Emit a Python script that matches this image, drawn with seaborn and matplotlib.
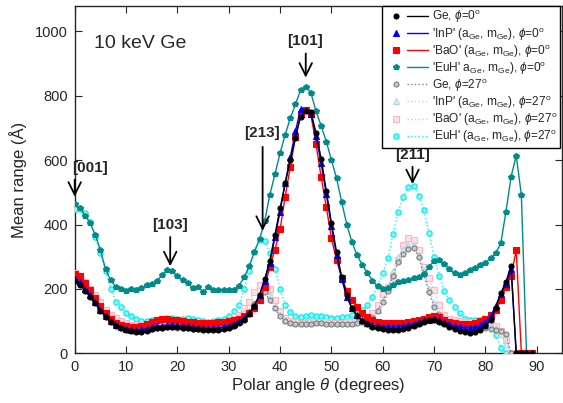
import numpy as np
import pandas as pd
import matplotlib
matplotlib.use("Agg")
import matplotlib.pyplot as plt
from matplotlib.lines import Line2D
from matplotlib.legend_handler import HandlerTuple
import seaborn as sns

sns.set_style("ticks")
plt.rcParams['font.family'] = ['Liberation Sans', 'DejaVu Sans']
plt.rcParams['mathtext.fontset'] = 'custom'
plt.rcParams['mathtext.rm'] = 'Liberation Sans'
plt.rcParams['mathtext.it'] = 'Liberation Sans:italic'

angle = list(range(90))

ge_0 = [225, 212, 195, 175, 155, 133, 113, 98, 86, 78,
        72, 68, 66, 67, 70, 74, 78, 80, 82, 82,
        81, 80, 78, 76, 74, 72, 71, 71, 72, 74,
        78, 84, 93, 105, 122, 148, 182, 230, 288, 368,
        450, 528, 600, 670, 735, 752, 750, 685, 605, 505,
        405, 315, 238, 180, 140, 115, 100, 90, 83, 79,
        76, 73, 72, 72, 74, 78, 84, 92, 98, 102,
        103, 98, 90, 82, 75, 70, 66, 64, 66, 72,
        85, 102, 140, 187, 222, 272, 0, 0, 0, 0]

inp_0 = [232, 220, 200, 180, 158, 136, 116, 100, 89, 82,
         76, 73, 72, 74, 77, 81, 84, 86, 88, 88,
         87, 86, 84, 82, 80, 79, 78, 78, 80, 82,
         86, 92, 100, 110, 125, 148, 180, 225, 280, 360,
         440, 530, 610, 690, 760, 756, 745, 675, 590, 495,
         395, 305, 230, 175, 140, 118, 103, 94, 88, 85,
         83, 82, 82, 83, 85, 88, 92, 97, 102, 105,
         106, 102, 96, 90, 85, 82, 80, 80, 82, 88,
         98, 115, 148, 185, 215, 262, 0, 0, 0, 0]

bao_0 = [245, 240, 217, 196, 172, 148, 125, 108, 95, 88,
         84, 82, 83, 86, 92, 98, 103, 106, 106, 105,
         103, 100, 98, 96, 95, 94, 94, 95, 96, 98,
         100, 104, 108, 115, 125, 140, 165, 205, 269, 321,
         385, 487, 580, 672, 745, 757, 742, 650, 548, 455,
         358, 290, 235, 195, 165, 143, 125, 112, 104, 98,
         95, 93, 93, 93, 95, 97, 100, 104, 108, 112,
         115, 112, 105, 98, 94, 92, 92, 92, 94, 100,
         108, 118, 134, 165, 207, 240, 321, 0, 0, 0]

euh_0 = [463, 452, 428, 405, 368, 321, 262, 227, 207, 200,
         194, 200, 198, 204, 212, 214, 224, 243, 259, 255,
         240, 227, 217, 203, 206, 191, 206, 196, 196, 196,
         196, 198, 210, 236, 270, 316, 354, 410, 492, 556,
         622, 679, 731, 773, 819, 828, 810, 752, 707, 658,
         601, 544, 470, 400, 345, 305, 275, 250, 226, 208,
         200, 203, 212, 220, 224, 228, 233, 236, 246, 268,
         288, 290, 278, 262, 248, 243, 250, 258, 266, 274,
         281, 296, 311, 342, 440, 549, 614, 492, 0, 0]

ge_27 = [228, 218, 198, 178, 158, 135, 115, 100, 88, 80,
         75, 72, 72, 73, 75, 77, 79, 80, 81, 81,
         80, 79, 78, 77, 76, 75, 75, 76, 77, 79,
         82, 88, 97, 110, 128, 152, 178, 190, 165, 140,
         115, 100, 93, 90, 90, 91, 92, 93, 93, 92,
         91, 90, 90, 90, 91, 93, 96, 100, 110, 130,
         160, 195, 240, 285, 310, 325, 328, 300, 245, 190,
         145, 118, 102, 94, 88, 84, 80, 78, 78, 78,
         78, 77, 72, 68, 60, 0, 0, 0, 0, 0]

inp_27 = [235, 225, 205, 183, 162, 140, 120, 104, 92, 85,
          80, 78, 78, 80, 82, 84, 85, 86, 86, 86,
          86, 85, 84, 83, 82, 82, 82, 83, 84, 86,
          89, 94, 102, 115, 132, 155, 182, 196, 180, 145,
          120, 105, 98, 95, 95, 96, 97, 97, 96, 95,
          94, 93, 93, 94, 95, 97, 100, 105, 115, 135,
          165, 205, 255, 300, 325, 338, 335, 305, 255, 200,
          155, 125, 108, 100, 96, 94, 93, 92, 92, 92,
          90, 86, 80, 60, 30, 0, 0, 0, 0, 0]

bao_27 = [250, 238, 220, 200, 181, 158, 134, 118, 109, 100,
          93, 89, 87, 87, 88, 89, 90, 92, 93, 93,
          92, 91, 90, 90, 89, 89, 89, 90, 92, 95,
          100, 108, 120, 140, 160, 190, 212, 215, 200, 165,
          130, 110, 100, 96, 95, 95, 96, 97, 97, 96,
          95, 95, 95, 96, 98, 101, 106, 113, 124, 150,
          185, 207, 233, 290, 335, 358, 352, 321, 269, 233,
          196, 150, 120, 108, 103, 100, 98, 97, 96, 95,
          93, 90, 85, 70, 40, 0, 0, 0, 0, 0]

euh_27 = [448, 448, 437, 409, 360, 311, 255, 201, 160, 144,
          124, 116, 106, 101, 101, 103, 105, 108, 110, 110,
          108, 108, 110, 108, 103, 100, 98, 100, 105, 108,
          115, 130, 150, 200, 255, 316, 352, 350, 311, 262,
          201, 150, 129, 116, 113, 116, 118, 117, 115, 112,
          110, 110, 112, 114, 118, 125, 135, 150, 175, 210,
          250, 295, 370, 440, 485, 518, 520, 490, 445, 375,
          300, 240, 195, 165, 145, 125, 108, 103, 103, 103,
          98, 82, 56, 18, 0, 0, 0, 0, 0, 0]

x_ticks = [0, 10, 20, 30, 40, 50, 60, 70, 80, 90]
y_ticks = [0, 200, 400, 600, 800, 1000]

labels = [r"Ge, $\phi$=0$^{\rm o}$",
          r"'InP' (a$_{\rm Ge}$, m$_{\rm Ge}$), $\phi$=0$^{\rm o}$",
          r"'BaO' (a$_{\rm Ge}$, m$_{\rm Ge}$), $\phi$=0$^{\rm o}$",
          r"'EuH' a$_{\rm Ge}$, m$_{\rm Ge}$), $\phi$=0$^{\rm o}$",
          r"Ge, $\phi$=27$^{\rm o}$",
          r"'InP' (a$_{\rm Ge}$, m$_{\rm Ge}$), $\phi$=27$^{\rm o}$",
          r"'BaO' (a$_{\rm Ge}$, m$_{\rm Ge}$), $\phi$=27$^{\rm o}$",
          r"'EuH' (a$_{\rm Ge}$, m$_{\rm Ge}$), $\phi$=27$^{\rm o}$"]

series = [ge_0, inp_0, bao_0, euh_0, ge_27, inp_27, bao_27, euh_27]

styles = [
    dict(color='black', marker='o', ms=3.6, mfc='black', mec='black', ls='-'),
    dict(color='#0000ff', marker='^', ms=3.8, mfc='#0000ff', mec='#0000ff', ls='-'),
    dict(color='#ff0000', marker='s', ms=4.2, mfc='#ff0000', mec='#ff0000', ls='-'),
    dict(color='#008b8b', marker='p', ms=3.8, mfc='#008b8b', mec='#008b8b', ls='-'),
    dict(color='#808080', marker='o', ms=3.6, mfc='#c8c8c8', mec='#808080', ls=':'),
    dict(color='#add8e6', marker='^', ms=3.8, mfc='#d8ecf4', mec='#add8e6', ls=':'),
    dict(color='#ffb6c1', marker='s', ms=4.2, mfc='#ffe0e6', mec='#ffb6c1', ls=':'),
    dict(color='#00ffff', marker='o', ms=3.8, mfc='#80ffff', mec='#00e8e8', ls=':'),
]

fig = plt.figure(figsize=(5.63, 4.03), dpi=100)
ax = fig.add_axes([0.1327, 0.1233, 0.8663, 0.8626])

order = [7, 6, 5, 4, 3, 0, 1, 2]
for i in order:
    st = styles[i]
    df = pd.DataFrame({'angle': angle, 'range': series[i]})
    sns.lineplot(data=df, x='angle', y='range', ax=ax, color=st['color'],
                 marker=st['marker'], markersize=st['ms'],
                 markerfacecolor=st['mfc'], markeredgecolor=st['mec'],
                 markeredgewidth=0.8, linestyle=st['ls'], linewidth=1.0,
                 zorder=3 + (8 - i) * 0.1)

ax.set_xlim(0, 95)
ax.set_ylim(0, 1080)
ax.set_xticks(x_ticks)
ax.set_xticklabels([str(v) for v in x_ticks])
ax.set_yticks(y_ticks)
ax.tick_params(direction='in', top=True, right=True, labelsize=10.5, length=5, pad=5)
for sp in ax.spines.values():
    sp.set_linewidth(1.0)
    sp.set_visible(True)
ax.set_xlabel(r"Polar angle $\theta$ (degrees)", fontsize=12, labelpad=1)
ax.set_ylabel("Mean range (Å)", fontsize=12, labelpad=6)

ax.text(3.8, 963, "10 keV Ge", fontsize=14, va='center', ha='left')

arrows = [("[001]", 3.0, 576, 0.0, 548, 478),
          ("[103]", 18.6, 399, 18.6, 370, 262),
          ("[213]", 36.5, 685, 36.6, 650, 372),
          ("[101]", 44.8, 969, 45.0, 940, 848),
          ("[211]", 65.8, 617, 65.8, 588, 517)]
for lab, tx, ty, ax_x, y0, y1 in arrows:
    ax.text(tx, ty, lab, fontsize=11, fontweight='bold', ha='center', va='center',
            clip_on=False, zorder=10)
    ax.annotate('', xy=(ax_x, y1), xytext=(ax_x, y0),
                arrowprops=dict(arrowstyle='->,head_length=0.9,head_width=0.45', color='black', lw=1.3),
                annotation_clip=False, zorder=10)

handles = []
for st in styles:
    mk = Line2D([], [], marker=st['marker'], markersize=st['ms'], mfc=st['mfc'],
                mec=st['mec'], ls='none', markeredgewidth=0.8)
    ln = Line2D([], [], color=st['color'], ls=st['ls'], lw=1.0)
    handles.append((mk, ln))
leg = ax.legend(handles, labels, handler_map={tuple: HandlerTuple(ndivide=None, pad=0.1)},
                loc='upper right', bbox_to_anchor=(0.996, 1.0), fontsize=8.6,
                handlelength=3.6, handletextpad=0.3, borderpad=0.25, labelspacing=0.02,
                frameon=True, fancybox=False, framealpha=1.0, borderaxespad=0.0)
leg.get_frame().set_edgecolor('black')
leg.get_frame().set_linewidth(1.0)
leg.set_zorder(20)

fig.savefig("out.png", dpi=100)
